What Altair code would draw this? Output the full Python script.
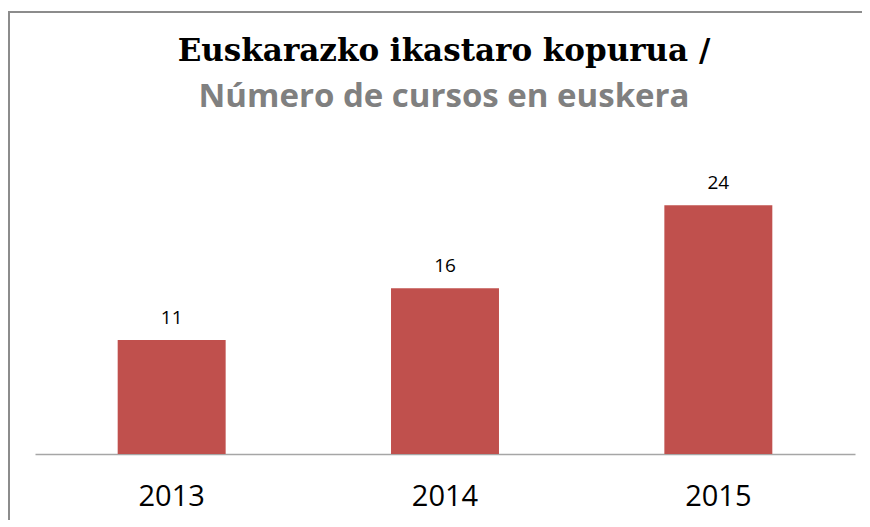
import altair as alt
import pandas as pd

years = ["2013", "2014", "2015"]
courses = [11, 16, 24]
title_line1 = "Euskarazko ikastaro kopurua /"
title_line2 = "Número de cursos en euskera"

df = pd.DataFrame({"year": years, "courses": courses})
one = alt.Data(values=[{"a": 1}])

x_enc = alt.X(
    "year:N",
    sort=years,
    scale=alt.Scale(paddingInner=0.605, paddingOuter=0.3025),
    axis=alt.Axis(
        title=None,
        labelAngle=0,
        ticks=False,
        domainColor="#a6a6a6",
        domainWidth=1.5,
        labelFont="Open Sans",
        labelFontSize=29,
        labelColor="#000000",
        labelPadding=28,
    ),
)
y_enc = alt.Y("courses:Q", scale=alt.Scale(domain=[0, 30]), axis=None)

bars = alt.Chart(df).mark_bar(color="#C0504D").encode(x=x_enc, y=y_enc)

labels = alt.Chart(df).mark_text(
    font="Open Sans", fontSize=19, color="#000000", baseline="alphabetic", dy=-16
).encode(x=alt.X("year:N", sort=years), y="courses:Q", text="courses:Q")

top_rule = alt.Chart(one).mark_rule(color="#8c8c8c", strokeWidth=2).encode(
    x=alt.value(-27), x2=alt.value(900), y=alt.value(-131)
)
left_rule = alt.Chart(one).mark_rule(color="#8c8c8c", strokeWidth=2).encode(
    x=alt.value(-26), y=alt.value(-132), y2=alt.value(500)
)

t1 = alt.Chart(one).mark_text(
    font="DejaVu Serif", fontSize=31, fontWeight="bold", color="#000000",
    align="center", baseline="alphabetic",
).encode(x=alt.value(409), y=alt.value(-82), text=alt.value(title_line1))
t2 = alt.Chart(one).mark_text(
    font="Open Sans", fontSize=33, fontWeight="bold", color="#808080",
    align="center", baseline="alphabetic",
).encode(x=alt.value(409), y=alt.value(-36), text=alt.value(title_line2))

chart = (
    alt.layer(top_rule, left_rule, t1, t2, bars, labels)
    .properties(
        width=820,
        height=311,
        autosize=alt.AutoSizeParams(type="none"),
        padding={"left": 27, "top": 135, "right": 7, "bottom": 66},
    )
    .configure_view(strokeWidth=0)
)

chart.save("out.html", embed_options={"renderer": "svg", "actions": False})
